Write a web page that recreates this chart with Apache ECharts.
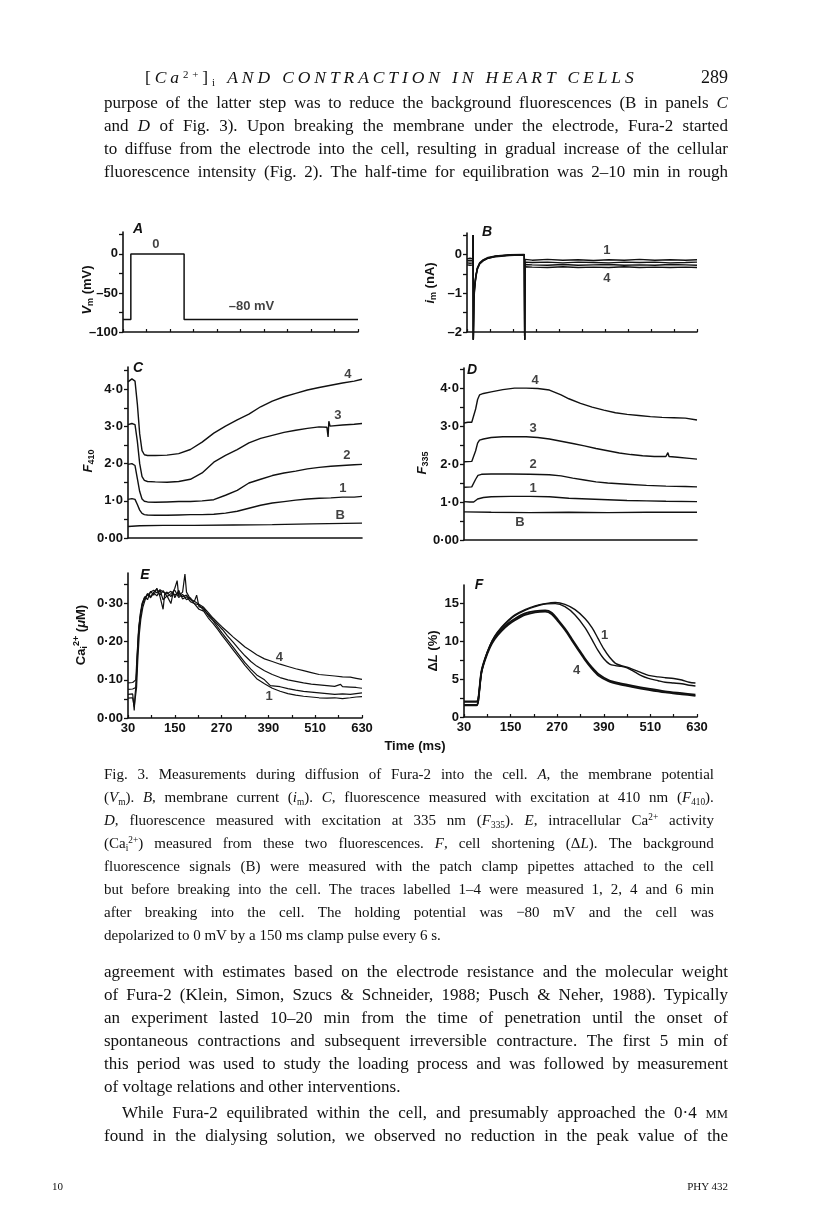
<!DOCTYPE html>
<html>
<head>
<meta charset="utf-8">
<script src="https://cdn.jsdelivr.net/npm/echarts@6/dist/echarts.min.js"></script>
<style>
html,body{margin:0;padding:0;background:#fff;}
#page{position:relative;width:816px;height:1206px;overflow:hidden;background:#fff;}
#chart{position:absolute;left:0;top:0;width:816px;height:1206px;}
.ln{position:absolute;font-family:"Liberation Serif","Times New Roman",serif;color:#111;white-space:nowrap;}
.ln sub,.ln sup{font-size:0.62em;line-height:0;position:relative;vertical-align:baseline;}
.ln sub{top:0.3em;} .ln sup{top:-0.5em;}
.ln small{font-size:0.74em;}
</style>
</head>
<body>
<div id="page"><div id="chart"></div></div>
<script>
// ---------------- DATA ----------------
// common time axis (ms)
const timeTicks = [30, 90, 150, 210, 270, 330, 390, 450, 510, 570, 630];
const timeLabels = [30, 150, 270, 390, 510, 630];

// A: membrane potential (mV)
const A_vm = [[30,-84],[50,-84],[50,0],[186,0],[186,-84],[630,-84]];
const A_ticks = [0, -50, -100];

// B: membrane current (nA), traces 1-4
const B_i1 = [[30,-0.12],[38,-0.1],[45.5,-0.12],[46,0.5],[46.5,-2.2],[48,-1.05],[50,-0.8],[53,-0.55],[57,-0.35],[63,-0.22],[72,-0.14],[85,-0.08],[105,-0.04],[140,-0.01],[179.5,0],[180,0.02],[180.5,-2.2],[181.5,-0.13],[200,-0.15],[240,-0.13],[280,-0.15],[320,-0.14],[360,-0.16],[400,-0.14],[440,-0.15],[480,-0.13],[520,-0.15],[560,-0.14],[600,-0.15],[630,-0.14]];
const B_i2 = [[30,-0.17],[38,-0.16],[45.5,-0.17],[46,0.5],[46.5,-2.2],[48,-1.1],[50,-0.82],[53,-0.56],[57,-0.36],[63,-0.23],[72,-0.15],[85,-0.09],[105,-0.05],[140,-0.02],[179.5,-0.01],[180,0.02],[180.5,-2.2],[181.5,-0.2],[200,-0.21],[240,-0.2],[280,-0.22],[320,-0.2],[360,-0.21],[400,-0.22],[440,-0.2],[480,-0.21],[520,-0.2],[560,-0.22],[600,-0.21],[630,-0.2]];
const B_i3 = [[30,-0.22],[38,-0.23],[45.5,-0.22],[46,0.5],[46.5,-2.2],[48,-1.15],[50,-0.85],[53,-0.58],[57,-0.37],[63,-0.24],[72,-0.16],[85,-0.1],[105,-0.05],[140,-0.02],[179.5,-0.01],[180,0.02],[180.5,-2.2],[181.5,-0.26],[200,-0.27],[240,-0.28],[280,-0.26],[320,-0.28],[360,-0.27],[400,-0.26],[440,-0.28],[480,-0.27],[520,-0.28],[560,-0.26],[600,-0.27],[630,-0.28]];
const B_i4 = [[30,-0.27],[38,-0.28],[45.5,-0.27],[46,0.5],[46.5,-2.2],[48,-1.2],[50,-0.88],[53,-0.6],[57,-0.39],[63,-0.25],[72,-0.17],[85,-0.1],[105,-0.06],[140,-0.03],[179.5,-0.01],[180,0.02],[180.5,-2.2],[181.5,-0.32],[200,-0.33],[240,-0.34],[280,-0.32],[320,-0.34],[360,-0.33],[400,-0.34],[440,-0.32],[480,-0.34],[520,-0.33],[560,-0.34],[600,-0.33],[630,-0.34]];
const B_ticks = [0, -1, -2];

// C: F410 fluorescence
const C_4 = [[30,4.2],[40,4.28],[48,4.22],[54,3.6],[60,2.8],[66,2.35],[72,2.24],[80,2.22],[100,2.22],[130,2.23],[160,2.27],[190,2.38],[220,2.58],[250,2.82],[280,3.01],[310,3.18],[340,3.33],[370,3.53],[400,3.68],[430,3.8],[460,3.89],[490,3.98],[520,4.05],[550,4.11],[580,4.17],[610,4.22],[630,4.27]];
const C_3 = [[30,3.05],[40,3.08],[48,3.05],[54,2.6],[60,2.0],[66,1.65],[72,1.55],[80,1.52],[100,1.51],[130,1.5],[160,1.52],[190,1.58],[220,1.75],[250,2.04],[280,2.22],[310,2.38],[340,2.56],[370,2.68],[400,2.76],[430,2.84],[460,2.9],[490,2.95],[520,2.99],[540,2.98],[543,2.72],[545,3.14],[548,3.01],[580,3.04],[610,3.06],[630,3.08]];
const C_2 = [[30,1.98],[40,2.0],[48,1.95],[54,1.6],[60,1.25],[66,1.05],[72,0.99],[80,0.97],[100,0.96],[130,0.97],[160,0.98],[190,0.98],[220,1.0],[250,1.03],[280,1.15],[310,1.28],[340,1.48],[370,1.58],[400,1.68],[430,1.75],[460,1.8],[490,1.86],[520,1.9],[550,1.93],[580,1.95],[610,1.97],[630,1.98]];
const C_1 = [[30,1.04],[40,1.06],[48,1.04],[54,0.9],[60,0.75],[66,0.66],[72,0.63],[80,0.62],[100,0.61],[130,0.61],[160,0.62],[190,0.63],[220,0.63],[250,0.64],[280,0.67],[310,0.72],[340,0.8],[370,0.88],[400,0.94],[430,0.98],[460,1.02],[490,1.05],[520,1.07],[550,1.08],[580,1.1],[610,1.1],[630,1.12]];
const C_B = [[30,0.31],[60,0.33],[120,0.34],[200,0.34],[300,0.35],[400,0.36],[500,0.38],[630,0.4]];
const CD_ticks = [4, 3, 2, 1, 0];

// D: F335 fluorescence
const D_4 = [[30,3.08],[40,3.1],[50,3.1],[55,3.15],[60,3.45],[65,3.7],[70,3.82],[80,3.86],[100,3.9],[130,3.96],[160,4.0],[190,4.0],[220,3.99],[250,3.95],[280,3.82],[300,3.72],[330,3.6],[360,3.5],[390,3.42],[420,3.35],[450,3.31],[480,3.28],[510,3.25],[540,3.23],[570,3.22],[600,3.21],[630,3.16]];
const D_3 = [[30,2.06],[50,2.07],[55,2.1],[60,2.35],[65,2.55],[70,2.63],[80,2.66],[100,2.7],[130,2.72],[160,2.72],[190,2.72],[220,2.7],[250,2.66],[280,2.6],[310,2.54],[340,2.48],[370,2.41],[400,2.35],[430,2.29],[460,2.25],[490,2.22],[520,2.2],[550,2.2],[555,2.3],[558,2.2],[580,2.18],[610,2.15],[630,2.13]];
const D_2 = [[30,1.39],[50,1.4],[55,1.45],[60,1.6],[66,1.7],[75,1.73],[100,1.74],[150,1.74],[200,1.73],[250,1.72],[280,1.69],[310,1.63],[340,1.58],[370,1.53],[400,1.5],[450,1.47],[500,1.44],[550,1.42],[600,1.41],[630,1.4]];
const D_1 = [[30,1.01],[45,1.0],[50,0.95],[55,1.0],[65,1.08],[80,1.12],[100,1.14],[150,1.15],[200,1.15],[250,1.14],[300,1.1],[350,1.08],[400,1.06],[450,1.04],[500,1.03],[550,1.02],[630,1.01]];
const D_B = [[30,0.74],[100,0.73],[200,0.72],[300,0.73],[400,0.72],[500,0.73],[630,0.73]];

// E: intracellular Ca2+ (uM)
const E_4 = [[30,0.092],[42,0.093],[47,0.09],[50,0.1],[53,0.16],[57,0.23],[61,0.27],[66,0.3],[72,0.315],[80,0.322],[88,0.33],[96,0.335],[104,0.328],[112,0.336],[120,0.33],[130,0.325],[140,0.332],[150,0.322],[160,0.328],[170,0.318],[180,0.322],[190,0.31],[200,0.306],[212,0.298],[224,0.29],[236,0.276],[248,0.262],[260,0.25],[272,0.238],[285,0.226],[300,0.212],[315,0.199],[330,0.186],[345,0.176],[360,0.166],[380,0.155],[400,0.148],[420,0.141],[440,0.135],[460,0.129],[480,0.124],[500,0.119],[520,0.114],[540,0.112],[560,0.11],[580,0.108],[600,0.107],[615,0.104],[630,0.101]];
const E_3 = [[30,0.075],[42,0.076],[47,0.072],[50,0.08],[53,0.14],[57,0.22],[61,0.26],[66,0.295],[72,0.31],[80,0.326],[88,0.318],[96,0.33],[104,0.338],[112,0.322],[120,0.334],[130,0.318],[140,0.326],[150,0.335],[160,0.316],[170,0.324],[180,0.31],[190,0.315],[200,0.3],[212,0.296],[224,0.283],[236,0.272],[248,0.258],[260,0.245],[272,0.232],[285,0.215],[300,0.198],[315,0.18],[330,0.163],[345,0.148],[360,0.136],[380,0.124],[400,0.114],[420,0.106],[440,0.1],[460,0.096],[480,0.092],[500,0.089],[520,0.087],[540,0.085],[560,0.083],[575,0.088],[580,0.082],[600,0.081],[615,0.08],[630,0.078]];
const E_2 = [[30,0.062],[42,0.063],[46,0.02],[48,0.06],[51,0.09],[54,0.17],[58,0.24],[62,0.27],[67,0.3],[73,0.318],[80,0.31],[88,0.332],[96,0.322],[104,0.34],[112,0.318],[120,0.285],[124,0.325],[130,0.33],[140,0.318],[150,0.34],[156,0.36],[160,0.32],[170,0.33],[176,0.377],[180,0.33],[190,0.312],[200,0.305],[206,0.322],[212,0.292],[224,0.288],[236,0.268],[248,0.255],[260,0.238],[272,0.222],[285,0.205],[300,0.185],[315,0.165],[330,0.145],[345,0.128],[360,0.113],[380,0.1],[395,0.085],[400,0.09],[420,0.082],[440,0.077],[460,0.073],[480,0.07],[500,0.068],[520,0.066],[540,0.064],[560,0.062],[580,0.063],[600,0.062],[615,0.064],[630,0.066]];
const E_1 = [[30,0.052],[42,0.053],[46,0.03],[49,0.055],[52,0.08],[55,0.15],[59,0.22],[63,0.26],[68,0.29],[74,0.31],[80,0.325],[88,0.315],[96,0.328],[104,0.32],[112,0.335],[120,0.31],[130,0.32],[140,0.3],[146,0.33],[150,0.315],[160,0.335],[170,0.312],[180,0.318],[190,0.305],[200,0.3],[212,0.285],[224,0.28],[236,0.262],[248,0.248],[260,0.232],[272,0.215],[285,0.198],[300,0.178],[315,0.158],[330,0.138],[345,0.12],[360,0.103],[380,0.09],[400,0.078],[420,0.07],[440,0.064],[460,0.06],[480,0.057],[500,0.055],[520,0.053],[540,0.052],[560,0.053],[580,0.051],[600,0.053],[615,0.055],[630,0.056]];
const E_ticks = [0.3, 0.2, 0.1, 0];

// F: cell shortening (%)
const F_1 = [[30,2.1],[50,2.1],[62,2.1],[66,2.3],[70,3.8],[75,6.0],[84,7.7],[97,9.5],[109,10.7],[127,11.9],[144,12.8],[161,13.5],[187,14.2],[213,14.7],[239,15.0],[265,15.15],[290,14.9],[316,14.2],[342,13.0],[360,11.8],[375,10.4],[390,9.0],[405,7.9],[420,7.1],[435,6.8],[450,6.6],[465,6.3],[485,5.9],[505,5.5],[530,5.3],[548,5.2],[570,5.1],[591,4.9],[610,4.6],[626,4.5]];
const F_2 = [[30,1.5],[50,1.5],[62,1.5],[66,1.8],[70,3.6],[75,5.8],[84,7.6],[97,9.4],[109,10.6],[127,11.8],[144,12.7],[161,13.4],[187,14.1],[213,14.6],[239,14.95],[265,15.0],[290,14.6],[316,13.5],[342,11.8],[360,10.2],[375,8.8],[390,7.7],[405,7.0],[420,6.8],[435,6.7],[450,6.5],[465,6.1],[485,5.5],[505,5.1],[530,4.8],[548,4.6],[570,4.5],[591,4.4],[610,4.2],[626,4.1]];
const F_3 = [[30,2.0],[62,2.0],[66,2.2],[70,3.9],[75,6.1],[84,7.7],[97,9.4],[109,10.5],[127,11.6],[144,12.4],[161,13.0],[187,13.7],[213,14.0],[239,14.1],[256,13.8],[273,12.8],[290,11.7],[307,10.4],[325,9.0],[342,7.7],[359,6.6],[376,5.7],[402,4.9],[428,4.5],[462,4.15],[505,3.75],[548,3.4],[591,3.15],[626,2.95]];
const F_4 = [[30,1.6],[62,1.6],[66,1.9],[70,3.7],[75,5.9],[84,7.5],[97,9.2],[109,10.3],[127,11.4],[144,12.2],[161,12.8],[187,13.5],[213,13.85],[239,13.95],[256,13.6],[273,12.6],[290,11.5],[307,10.2],[325,8.8],[342,7.5],[359,6.4],[376,5.5],[402,4.75],[428,4.35],[462,4.0],[505,3.6],[548,3.25],[591,3.0],[626,2.8]];
const F_ticks = [15, 10, 5, 0];

// ---------------- PAGE TEXT ----------------
const textTop = [
 'purpose of the latter step was to reduce the background fluorescences (B in panels <i>C</i>',
 'and <i>D</i> of Fig. 3). Upon breaking the membrane under the electrode, Fura-2 started',
 'to diffuse from the electrode into the cell, resulting in gradual increase of the cellular',
 'fluorescence intensity (Fig. 2). The half-time for equilibration was 2–10 min in rough'
];
const caption = [
 'Fig. 3. Measurements during diffusion of Fura-2 into the cell. <i>A</i>, the membrane potential',
 '(<i>V</i><sub>m</sub>). <i>B</i>, membrane current (<i>i</i><sub>m</sub>). <i>C</i>, fluorescence measured with excitation at 410 nm (<i>F</i><sub>410</sub>).',
 '<i>D</i>, fluorescence measured with excitation at 335 nm (<i>F</i><sub>335</sub>). <i>E</i>, intracellular Ca<sup>2+</sup> activity',
 '(Ca<sub>i</sub><sup>2+</sup>) measured from these two fluorescences. <i>F</i>, cell shortening (Δ<i>L</i>). The background',
 'fluorescence signals (B) were measured with the patch clamp pipettes attached to the cell',
 'but before breaking into the cell. The traces labelled 1–4 were measured 1, 2, 4 and 6 min',
 'after breaking into the cell. The holding potential was −80 mV and the cell was',
 'depolarized to 0 mV by a 150 ms clamp pulse every 6 s.'
];
const textMid = [
 'agreement with estimates based on the electrode resistance and the molecular weight',
 'of Fura-2 (Klein, Simon, Szucs &amp; Schneider, 1988; Pusch &amp; Neher, 1988). Typically',
 'an experiment lasted 10–20 min from the time of penetration until the onset of',
 'spontaneous contractions and subsequent irreversible contracture. The first 5 min of',
 'this period was used to study the loading process and was followed by measurement',
 'of voltage relations and other interventions.'
];
const textEnd = [
 'While Fura-2 equilibrated within the cell, and presumably approached the 0·4 <small>MM</small>',
 'found in the dialysing solution, we observed no reduction in the peak value of the'
];

const page = document.getElementById('page');
function addLine(html, left, width, y, size, justify, extraStyle){
  const d = document.createElement('div');
  d.className = 'ln';
  d.style.left = left + 'px';
  d.style.width = width + 'px';
  d.style.top = (y - 11) + 'px';
  d.style.height = '22px';
  d.style.lineHeight = '22px';
  d.style.fontSize = size + 'px';
  if (justify) {
    d.style.display = 'flex';
    d.style.justifyContent = 'space-between';
    d.innerHTML = html.split(' ').map(w => '<span>' + w + '</span>').join('');
  } else {
    d.innerHTML = html;
  }
  if (extraStyle) Object.assign(d.style, extraStyle);
  page.appendChild(d);
}
function addBlock(lines, left, width, y0, dy, size, lastLeft, indent){
  lines.forEach((h, k) => {
    const ind = (indent && k === 0) ? indent : 0;
    addLine(h, left + ind, width - ind, y0 + k * dy, size, !(lastLeft && k === lines.length - 1));
  });
}
addLine('[<i>Ca</i><sup>2+</sup>]<sub>i</sub> <i>AND CONTRACTION IN HEART CELLS</i>', 145, 500, 77, 17.5, false, {letterSpacing:'3.9px'});
addLine('289', 680, 48, 77, 18, false, {textAlign:'right'});
addBlock(textTop, 104, 624, 103, 23, 17, false);
addBlock(caption, 104, 610, 774, 23, 15, true);
addBlock(textMid, 104, 624, 972, 23, 17, true);
addBlock(textEnd, 104, 624, 1113, 23, 17, false, 18);
addLine('10', 52, 40, 1186, 11, false);
addLine('PHY 432', 640, 88, 1186, 11, false, {textAlign:'right'});

// ---------------- CHART ----------------
const INK = '#111';
const FONT = '"Liberation Sans", Arial, sans-serif';
const GRIDS = [
  {left:123, top:232, width:235, height:100},
  {left:467, top:233, width:230, height:99},
  {left:128, top:367, width:234, height:171},
  {left:464, top:368, width:233, height:172},
  {left:128, top:573, width:234, height:145},
  {left:464, top:585, width:233, height:132}
];
function near(v, arr){ return arr.some(a => Math.abs(a - v) < 1e-6); }
function tickVals(min, max, step){ const r=[]; for(let i=0; min+i*step<=max+1e-9; i++) r.push(Math.round((min+i*step)*1e6)/1e6); return r; }
function dash(v){ return v < 0 ? '–' + (-v) : String(v); }
function dot(d){ return v => v.toFixed(d).replace('.', '·'); }

const Y = [
  {min:-100, max:28, step:25, labels:A_ticks, fmt:dash},
  {min:-2, max:0.55, step:0.5, labels:B_ticks, fmt:dash},
  {min:0, max:4.6, step:0.5, labels:CD_ticks, fmt:v => v===0 ? '0·00' : dot(1)(v)},
  {min:0, max:4.53, step:0.5, labels:CD_ticks, fmt:v => v===0 ? '0·00' : dot(1)(v)},
  {min:0, max:0.38, step:0.05, labels:E_ticks, fmt:dot(2)},
  {min:0, max:17.46, step:2.5, labels:F_ticks, fmt:v => String(v)}
];
const yAxis = Y.map((y, i) => ({
  type:'value', gridIndex:i, min:y.min, max:y.max, interval:y.step,
  axisLine:{show:true, onZero:false, lineStyle:{color:INK, width:1.6}},
  axisTick:{show:true, length:4, lineStyle:{color:INK, width:1.3}, customValues:tickVals(y.min, y.max, y.step)},
  axisLabel:{show:true, margin:5, color:INK, fontFamily:FONT, fontWeight:'bold', fontSize:13,
    customValues:y.labels, formatter:v => near(v, y.labels) ? y.fmt(v) : ''},
  splitLine:{show:false}
}));
const xShow = [
  {ticks:true, labels:false}, {ticks:true, labels:false},
  {ticks:false, labels:false}, {ticks:false, labels:false},
  {ticks:true, labels:true}, {ticks:true, labels:true}
];
const xAxis = xShow.map((x, i) => ({
  type:'value', gridIndex:i, min:30, max:630, interval:60, position:'bottom',
  axisLine:{show:true, onZero:false, lineStyle:{color:INK, width:1.6}},
  axisTick:{show:x.ticks, inside:true, length:3, lineStyle:{color:INK, width:1.2}, customValues:timeTicks},
  axisLabel:{show:x.labels, margin:4, color:INK, fontFamily:FONT, fontWeight:'bold', fontSize:13,
    customValues:timeLabels, formatter:v => near(v, timeLabels) ? String(v) : ''},
  splitLine:{show:false}
}));

function line(gi, data, extra){
  return Object.assign({type:'line', xAxisIndex:gi, yAxisIndex:gi, data:data, showSymbol:false, symbol:'none',
    lineStyle:{color:INK, width:1.4}, silent:true, animation:false}, extra || {});
}
function tags(gi, arr){
  return {type:'scatter', xAxisIndex:gi, yAxisIndex:gi, symbolSize:0, silent:true, animation:false,
    data:arr.map(a => ({name:a[0], value:[a[1], a[2]]})),
    label:{show:true, position:'inside', formatter:'{b}', color:INK, fontFamily:FONT, fontWeight:'bold', fontSize:13}};
}

const series = [
  line(0, A_vm, {lineStyle:{color:INK, width:1.5}}),
  tags(0, [['0', 114, 12.4], ['–80 mV', 358, -67.6]]),
  line(1, B_i1, {clip:false}), line(1, B_i2, {clip:false}), line(1, B_i3, {clip:false}), line(1, B_i4, {clip:false}),
  tags(1, [['1', 395, 0.11], ['4', 395, -0.62]]),
  line(2, C_4), line(2, C_3), line(2, C_2), line(2, C_1), line(2, C_B),
  tags(2, [['4', 594, 4.41], ['3', 568, 3.31], ['2', 591, 2.23], ['1', 581, 1.34], ['B', 574, 0.62]]),
  line(3, D_4), line(3, D_3), line(3, D_2), line(3, D_1), line(3, D_B),
  tags(3, [['4', 213, 4.2], ['3', 208, 2.93], ['2', 208, 1.98], ['1', 208, 1.37], ['B', 174, 0.45]]),
  line(4, E_4, {lineStyle:{color:INK, width:1.2}}), line(4, E_3, {lineStyle:{color:INK, width:1.2}}),
  line(4, E_2, {lineStyle:{color:INK, width:1.2}}), line(4, E_1, {lineStyle:{color:INK, width:1.2}}),
  tags(4, [['4', 418, 0.158], ['1', 392, 0.056]]),
  line(5, F_1, {smooth:0.3}), line(5, F_2, {smooth:0.3}), line(5, F_3, {smooth:0.3, lineStyle:{color:INK, width:1.8}}), line(5, F_4, {smooth:0.3, lineStyle:{color:INK, width:1.8}}),
  tags(5, [['1', 392, 10.8], ['4', 320, 6.2]])
];

function txt(x, y, text, extra){
  return Object.assign({type:'text', x:x, y:y, silent:true,
    style:Object.assign({text:text, fill:INK, fontFamily:FONT, fontWeight:'bold', fontSize:13, align:'center', verticalAlign:'middle'}, (extra && extra.style) || {})},
    extra && extra.rotation !== undefined ? {rotation:extra.rotation} : {});
}
const RICH = {
  i:{fontStyle:'italic', fontWeight:'bold', fontSize:13, fontFamily:FONT, fill:INK},
  s:{fontWeight:'bold', fontSize:9, fontFamily:FONT, padding:[8,0,0,0], fill:INK},
  p:{fontWeight:'bold', fontSize:9, fontFamily:FONT, padding:[0,0,8,0], fill:INK}
};
const R90 = Math.PI / 2;
const graphic = [
  txt(138, 229, 'A', {style:{fontStyle:'italic', fontSize:14}}),
  txt(487, 232, 'B', {style:{fontStyle:'italic', fontSize:14}}),
  txt(138, 368, 'C', {style:{fontStyle:'italic', fontSize:14}}),
  txt(472, 370, 'D', {style:{fontStyle:'italic', fontSize:14}}),
  txt(145, 575, 'E', {style:{fontStyle:'italic', fontSize:14}}),
  txt(479, 585, 'F', {style:{fontStyle:'italic', fontSize:14}}),
  txt(87, 290, '{i|V}{s|m} (mV)', {rotation:R90, style:{rich:RICH}}),
  txt(430, 283, '{i|i}{s|m} (nA)', {rotation:R90, style:{rich:RICH}}),
  txt(88, 461, '{i|F}{s|410}', {rotation:R90, style:{rich:RICH}}),
  txt(422, 463, '{i|F}{s|335}', {rotation:R90, style:{rich:RICH}}),
  txt(81, 635, 'Ca{s|i}{p|2+} ({i|μ}M)', {rotation:R90, style:{rich:RICH}}),
  txt(433, 651, 'Δ{i|L} (%)', {rotation:R90, style:{rich:RICH}}),
  txt(415, 746, 'Time (ms)')
];

const chart = echarts.init(document.getElementById('chart'), null, {renderer:'canvas', width:816, height:1206});
chart.setOption({
  animation:false,
  backgroundColor:'transparent',
  grid:GRIDS.map(g => Object.assign({containLabel:false}, g)),
  xAxis:xAxis, yAxis:yAxis, series:series, graphic:graphic
});
</script>
</body>
</html>
